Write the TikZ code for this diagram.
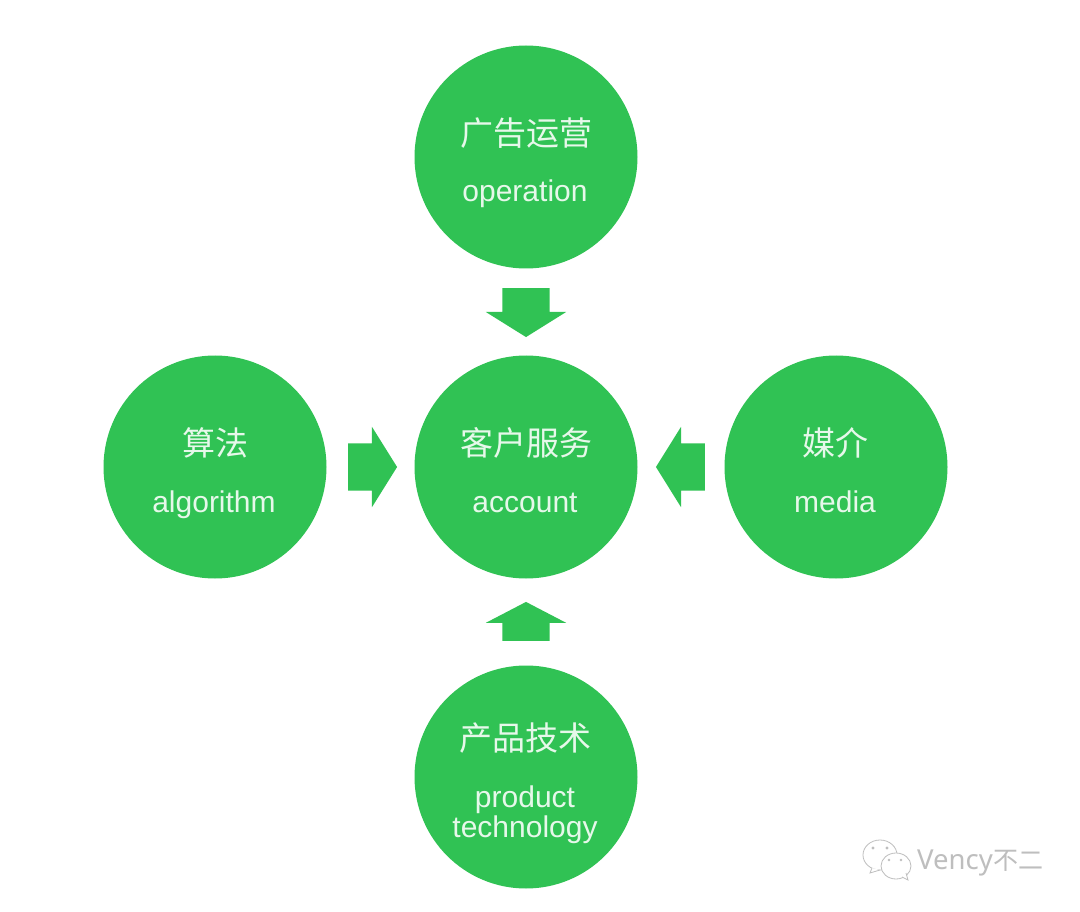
\documentclass[tikz,border=0pt]{standalone}
\usepackage{fontspec}
\usetikzlibrary{shapes.arrows,calc}
\setmainfont{Liberation Sans}
\newfontfamily\cjk{Noto Sans CJK SC}
\newfontfamily\wm{Noto Sans}
\definecolor{gr}{HTML}{30C254}
\definecolor{txt}{HTML}{E6F8EA}
\definecolor{wmc}{HTML}{BEBEBE}
\tikzset{
  x=1pt,y=-1pt,
  disc/.style={circle,fill=gr,draw=none,minimum size=223pt,inner sep=0pt},
  zh/.style={text=txt,inner sep=0pt,font=\cjk\fontsize{33}{36}\selectfont},
  en/.style={text=txt,inner sep=0pt,anchor=base,font=\fontsize{30}{32}\selectfont},
  blockarrow/.style={single arrow,fill=gr,draw=none,inner xsep=0pt,inner ysep=23.5pt,
    single arrow head extend=16.5pt,anchor=tip},
  bubble/.style={draw=wmc,line width=0.8pt,fill=white},
}
\begin{document}
\begin{tikzpicture}
\useasboundingbox (0,0) rectangle (1080,912);
\fill[white] (0,0) rectangle (1080,912);
\node[disc] (op) at (526,157) {};
\node[disc] (acc) at (526,467) {};
\node[disc] (alg) at (215,467) {};
\node[disc] (med) at (836,467) {};
\node[disc] (prod) at (526,777) {};
\node[zh] (t1) at (526,133) {广告运营};
\node[en] (e1) at (525,202) {operation};
\node[zh] (t2) at (526,443) {客户服务};
\node[en] (e2) at (525,512) {account};
\node[zh] (t3) at (215,443) {算法};
\node[en] (e3) at (214,512) {algorithm};
\node[zh] (t4) at (835,443) {媒介};
\node[en] (e4) at (835,512) {media};
\node[zh] (t5) at (525,738) {产品技术};
\node[en] (e5) at (525,807) {product};
\node[en] (e6) at (525,837) {technology};
\node[blockarrow,rotate=270,minimum height=49pt,single arrow tip angle=116] (a1) at ($(acc.north)+(0,-18)$) {};
\node[blockarrow,rotate=90,minimum height=39pt,single arrow tip angle=125] (a2) at ($(acc.south)+(0,23)$) {};
\node[blockarrow,rotate=0,minimum height=49pt,single arrow tip angle=116] (a3) at ($(acc.west)+(-17,0)$) {};
\node[blockarrow,rotate=180,minimum height=49pt,single arrow tip angle=116] (a4) at ($(acc.east)+(18,0)$) {};
% watermark
\draw[bubble] (880,855) ellipse (17 and 15);
\draw[bubble] (872,868) -- (870,873) -- (880,870);
\draw[bubble] (896,866) ellipse (15 and 13);
\draw[bubble] (902,877) -- (908,880) -- (906,873);
\fill[wmc] (873,848) circle (1.6) (887,848) circle (1.6) (889,860) circle (1.4) (901,860) circle (1.4);
\node[text=wmc,inner sep=0pt,anchor=west,font=\wm\fontsize{27.5}{30}\selectfont] (wm1) at (917,863) {Vency};
\node[text=wmc,inner sep=0pt,anchor=west,font=\cjk\fontsize{25}{28}\selectfont] (wm2) at (993,861) {不二};
\end{tikzpicture}
\end{document}
